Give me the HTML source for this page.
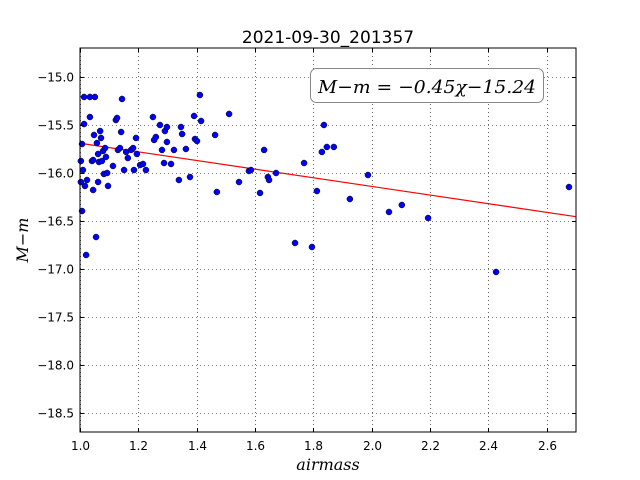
<!DOCTYPE html>
<html><head><meta charset="utf-8"><style>
html,body{margin:0;padding:0;background:#fff;}
svg{display:block;}
.tick{font-family:"DejaVu Sans","Liberation Sans",sans-serif;font-size:12px;fill:#000;}
.math{font-family:"DejaVu Serif","Liberation Serif",serif;font-style:italic;}
</style></head><body>
<svg id="chart" width="640" height="480" xmlns="http://www.w3.org/2000/svg">
<rect width="640" height="480" fill="#fff"/>
<text x="328" y="43" text-anchor="middle" font-family="DejaVu Sans, Liberation Sans, sans-serif" font-size="17">2021-09-30_201357</text>
<g id="grid"></g>
<g id="fit"></g>
<g id="points"></g>
<rect x="80" y="48" width="496" height="384" fill="none" stroke="#000" stroke-width="1"/>
<g id="ticks"></g>
<g>
<rect x="310.5" y="68.5" width="233" height="34" rx="6" ry="6" fill="#fff" stroke="#888" stroke-width="1"/>
<text x="318" y="93" class="math" font-size="18" textLength="218" lengthAdjust="spacingAndGlyphs">M−m = −0.45χ−15.24</text>
</g>
<text x="328" y="470" text-anchor="middle" class="math" font-size="16">airmass</text>
<text transform="translate(28,240) rotate(-90)" text-anchor="middle" class="math" font-size="16">M−m</text>
</svg>
<script>
const xs=[1.003,1.003,1.007,1.007,1.010,1.014,1.014,1.017,1.021,1.024,1.034,1.034,1.041,1.045,1.045,1.048,1.051,1.055,1.058,1.062,1.062,1.065,1.069,1.072,1.075,1.079,1.082,1.086,1.089,1.093,1.096,1.113,1.123,1.127,1.130,1.137,1.141,1.144,1.151,1.158,1.164,1.175,1.182,1.185,1.192,1.195,1.206,1.216,1.226,1.250,1.254,1.260,1.274,1.281,1.288,1.291,1.298,1.298,1.312,1.322,1.339,1.346,1.350,1.363,1.377,1.391,1.394,1.401,1.411,1.415,1.463,1.469,1.511,1.545,1.579,1.586,1.617,1.631,1.644,1.648,1.672,1.737,1.768,1.795,1.812,1.829,1.836,1.846,1.870,1.925,1.987,2.059,2.103,2.193,2.426,2.676];
const ys=[-15.875,-16.094,-16.396,-15.698,-15.969,-15.208,-15.490,-16.135,-16.854,-16.073,-15.208,-15.417,-15.875,-15.865,-16.177,-15.604,-15.208,-16.667,-15.688,-16.094,-15.802,-15.885,-15.563,-15.635,-15.875,-15.771,-16.010,-15.740,-15.833,-16.000,-16.135,-15.927,-15.448,-15.427,-15.760,-15.740,-15.573,-15.229,-15.969,-15.781,-15.844,-15.760,-15.740,-15.969,-15.635,-15.802,-15.917,-15.906,-15.969,-15.417,-15.656,-15.625,-15.500,-15.760,-15.896,-15.563,-15.677,-15.521,-15.906,-15.760,-16.073,-15.521,-15.594,-15.750,-16.042,-15.406,-15.646,-15.667,-15.188,-15.458,-15.604,-16.198,-15.385,-16.094,-15.979,-15.969,-16.208,-15.760,-16.042,-16.073,-16.000,-16.729,-15.896,-16.771,-16.188,-15.781,-15.500,-15.729,-15.729,-16.271,-16.021,-16.406,-16.333,-16.469,-17.031,-16.146];
const fitSlope=-0.45;
const fitIntercept=-15.24;
const xTicks=[1.0,1.2,1.4,1.6,1.8,2.0,2.2,2.4,2.6];
const yTicks=[-15.0,-15.5,-16.0,-16.5,-17.0,-17.5,-18.0,-18.5];
const X0=80,X1=576,Y0=48,Y1=432,xmin=1.0,xmax=2.7,ymin=-18.698,ymax=-14.698;
const sx=v=>X0+(v-xmin)/(xmax-xmin)*(X1-X0);
const sy=v=>Y0+(ymax-v)/(ymax-ymin)*(Y1-Y0);
const NS="http://www.w3.org/2000/svg";
function mk(t,a){const e=document.createElementNS(NS,t);for(const k in a)e.setAttribute(k,a[k]);return e;}
const grid=document.getElementById('grid'),ticks=document.getElementById('ticks');
xTicks.forEach(t=>{const x=Math.round(sx(t))+0.5;
 const g=mk('line',{x1:x,x2:x,y1:Y0,y2:Y1,stroke:'#000','stroke-width':0.6,'stroke-dasharray':'1,3'});
 
 
 grid.appendChild(g);
 ticks.appendChild(mk('line',{x1:x,x2:x,y1:Y1,y2:Y1-4,stroke:'#000'}));
 ticks.appendChild(mk('line',{x1:x,x2:x,y1:Y0,y2:Y0+4,stroke:'#000'}));
 const l=mk('text',{x:x,y:Y1+18,'text-anchor':'middle',class:'tick'});l.textContent=t.toFixed(1);
 
 
 ticks.appendChild(l);});
yTicks.forEach(t=>{const y=Math.round(sy(t))+0.5;
 const g=mk('line',{x1:X0,x2:X1,y1:y,y2:y,stroke:'#000','stroke-width':0.6,'stroke-dasharray':'1,3'});
 
 
 grid.appendChild(g);
 ticks.appendChild(mk('line',{x1:X0,x2:X0+4,y1:y,y2:y,stroke:'#000'}));
 ticks.appendChild(mk('line',{x1:X1,x2:X1-4,y1:y,y2:y,stroke:'#000'}));
 const l=mk('text',{x:X0-6,y:y+4,'text-anchor':'end',class:'tick'});l.textContent=t.toFixed(1).replace('-','−');
 
 
 ticks.appendChild(l);});
const fl=mk('line',{x1:sx(xmin),y1:sy(fitSlope*xmin+fitIntercept),x2:sx(xmax),y2:sy(fitSlope*xmax+fitIntercept),stroke:'#ff0000','stroke-width':1.2});


document.getElementById('fit').appendChild(fl);
const pg=document.getElementById('points');
xs.forEach((v,i)=>{const c=mk('circle',{cx:sx(v),cy:sy(ys[i]),r:3.0,fill:'#0000ff',stroke:'#000','stroke-width':0.5});
 
 
 pg.appendChild(c);});
</script>
</body></html>
